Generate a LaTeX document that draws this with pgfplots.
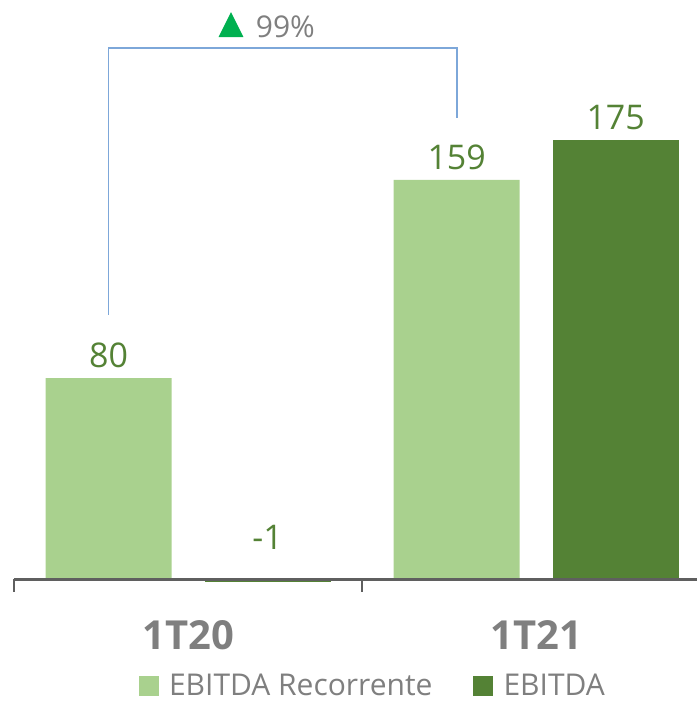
\documentclass[border=0pt]{standalone}
\usepackage{pgfplots}
\pgfplotsset{compat=1.18}
\usepackage{fontspec}
\setmainfont{Open Sans}
\definecolor{recor}{HTML}{A9D18E}
\definecolor{ebitda}{HTML}{548235}
\definecolor{txtgray}{HTML}{7F7F7F}
\definecolor{axgray}{HTML}{5F5F5F}
\definecolor{bracket}{HTML}{7DA7D9}
\definecolor{upgreen}{HTML}{00B050}

\begin{document}
\begin{tikzpicture}
\begin{axis}[
    width=348.5pt, height=350.5pt, scale only axis,
    xmin=-0.5402, xmax=1.4620, ymin=-48.6, ymax=230.7,
    hide axis, clip=false,
    /pgf/number format/assume math mode=true,
    ybar, bar width=63pt,
    nodes near coords,
    nodes near coords align={anchor=south},
    every node near coord/.append style={font=\fontsize{17}{20}\selectfont,
        text=ebitda, inner sep=0pt, yshift=5pt},
    legend columns=2,
    legend style={at={(axis cs:0.534,-42.6)}, anchor=center, draw=none, fill=none,
        font=\fontsize{15}{18}\selectfont\color{txtgray},
        /tikz/every even column/.append style={column sep=18pt}},
    legend image code/.code={\fill[#1] (0pt,-5pt) rectangle (10pt,5pt);},
]
\addplot[fill=recor, draw=none, bar shift=-39.75pt] coordinates {(0,80) (1,159)};
\addlegendentry{\hspace{3pt}EBITDA Recorrente}
\addplot[fill=ebitda, draw=none, bar shift=39.75pt] coordinates {(1,175)};
\addlegendentry{\hspace{3.5pt}EBITDA}
\addplot[fill=ebitda, draw=none, bar shift=39.75pt, forget plot,
    every node near coord/.append style={yshift=10.75pt}] coordinates {(0,-1)};

% eixo horizontal e separadores
\draw[axgray, line width=1.5pt] (axis cs:-0.5,0) -- (axis cs:1.4620,0);
\draw[axgray, line width=1.2pt] (axis cs:-0.5,0) -- (axis cs:-0.5,-5.2);
\draw[axgray, line width=1.2pt] (axis cs:0.5,0) -- (axis cs:0.5,-5.2);

\node[font=\fontsize{20}{24}\selectfont\bfseries, text=txtgray] at (axis cs:0,-22.3) {1T20};
\node[font=\fontsize{20}{24}\selectfont\bfseries, text=txtgray] at (axis cs:1,-22.3) {1T21};

% variacao
\draw[bracket, line width=0.8pt] (axis cs:-0.228,105.2) -- (axis cs:-0.228,211.5)
    -- (axis cs:0.772,211.5) -- (axis cs:0.772,183.7);
\fill[upgreen] (axis cs:0.0875,215.9) -- (axis cs:0.1592,215.9) -- (axis cs:0.1234,225.9) -- cycle;
\node[anchor=base west, inner sep=0pt, font=\fontsize{15}{18}\selectfont, text=txtgray]
    at (axis cs:0.1937,215.9) {99\%};
\end{axis}
\pgfresetboundingbox
\path (current axis.south west) rectangle (current axis.north east);
\end{tikzpicture}
\end{document}
